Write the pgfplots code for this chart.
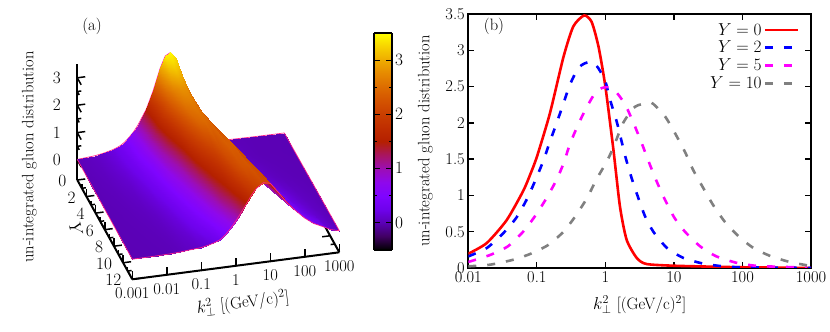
\documentclass[border=0pt]{standalone}
\usepackage{pgfplots}
\pgfplotsset{compat=1.18}
\definecolor{mag}{rgb}{1,0,1}
\definecolor{edgepink}{rgb}{1,0.15,0.55}
\newcommand{\F}{\fontsize{16.5}{18}\selectfont}
\begin{document}
\begin{tikzpicture}[x=1pt,y=1pt]
\pgfplotsset{colormap={pm3d}{rgb=(0,0,0) rgb=(.25,.0002,.383) rgb=(.354,.002,.707) rgb=(.433,.0066,.924) rgb=(.5,.0156,1) rgb=(.559,.0305,.924) rgb=(.612,.0527,.707) rgb=(.661,.0837,.383) rgb=(.707,.125,0) rgb=(.75,.178,0) rgb=(.79,.244,0) rgb=(.829,.325,0) rgb=(.866,.422,0) rgb=(.901,.536,0) rgb=(.935,.67,0) rgb=(.968,.824,0) rgb=(1,1,0)}}
\path[use as bounding box] (0,0) rectangle (830,332);
\begin{axis}[
  at={(180.8pt,185.5pt)}, anchor=origin,
  x={(34.5pt,4.5pt)}, y={(4.583pt,-8.275pt)}, z={(0pt,27.4pt)},
  xmin=-3,xmax=3,ymin=0,ymax=12,zmin=-0.73,zmax=3.5,
  axis x line*=bottom, axis y line*=left, axis z line*=left,
  xtick={-3,-2,-1,0,1,2,3}, xticklabels={0.001,0.01,0.1,1,10,100,1000},
  ytick={0,2,4,6,8,10,12}, minor y tick num=1,
  ztick={0,1,2,3}, minor z tick num=1,
  point meta min=-0.5, point meta max=3.5,
  axis line style={line width=2pt,-}, 
  tick style={line width=1.5pt,black},
  tick align=inside, major tick length=8pt, minor tick length=4pt,
  clip=false,
  tick label style={font=\F},
  xticklabel style={anchor=center,yshift=-14pt},
  yticklabel style={anchor=east,xshift=-7.5pt,yshift=-1pt},
  zticklabel style={anchor=east,xshift=-13pt},
  colormap name=pm3d,
]
\addplot3[draw=edgepink,line width=0.7pt,no marks] coordinates {(-3,0,.02)(-2.5,0,.07)(-2.25,0,.12)(-2,0,.197)(-1.875,0,.25)(-1.75,0,.32)(-1.625,0,.43)(-1.5,0,.58)(-1.375,0,.75)(-1.25,0,.97)(-1,0,1.53)(-.8,0,2.17)(-.6,0,2.95)(-.45,0,3.38)(-.3,0,3.48)(-.15,0,3.25)(0,0,2.5)(.15,0,1.36)(.3,0,.44)(.45,0,.14)(.6,0,.055)(.8,0,.04)(1,0,.03)(1.25,0,.025)(1.5,0,.02)(1.75,0,.015)(2,0,.01)(2.25,0,.007)(2.5,0,.005)(2.75,0,.003)(3,0,.002)};
\addplot3[black,line width=2pt,no marks] coordinates {(3,0,-.73)(3,12,-.73)};
\addplot3[black,line width=1.5pt,no marks] coordinates {(3,10,-.73)(2.77,10,-.73)};
\addplot3[black,line width=1.5pt,no marks] coordinates {(3,11,-.73)(2.88,11,-.73)};
\addplot3[surf,shader=interp,z buffer=reverse x seq,mesh/cols=31,point meta=z] coordinates {
(-3,0,.02)(-2.5,0,.07)(-2.25,0,.12)(-2,0,.197)(-1.875,0,.25)(-1.75,0,.32)(-1.625,0,.43)(-1.5,0,.58)(-1.375,0,.75)(-1.25,0,.97)(-1,0,1.53)(-.8,0,2.17)(-.6,0,2.95)(-.45,0,3.38)(-.3,0,3.48)(-.15,0,3.25)(0,0,2.5)(.15,0,1.36)(.3,0,.44)(.45,0,.14)(.6,0,.055)(.8,0,.04)(1,0,.03)(1.25,0,.025)(1.5,0,.02)(1.75,0,.015)(2,0,.01)(2.25,0,.007)(2.5,0,.005)(2.75,0,.003)(3,0,.002)
(-3,1,.018)(-2.5,1,.062)(-2.25,1,.11)(-2,1,.18)(-1.875,1,.235)(-1.75,1,.30)(-1.625,1,.39)(-1.5,1,.51)(-1.375,1,.66)(-1.25,1,.85)(-1,1,1.4)(-.8,1,1.98)(-.6,1,2.65)(-.45,1,3.05)(-.3,1,3.18)(-.15,1,3.07)(0,1,2.58)(.15,1,1.72)(.3,1,.95)(.45,1,.58)(.6,1,.35)(.8,1,.2)(1,1,.11)(1.25,1,.06)(1.5,1,.035)(1.75,1,.018)(2,1,.01)(2.25,1,.007)(2.5,1,.005)(2.75,1,.003)(3,1,.002)
(-3,2,.015)(-2.5,2,.055)(-2.25,2,.1)(-2,2,.16)(-1.875,2,.21)(-1.75,2,.27)(-1.625,2,.36)(-1.5,2,.47)(-1.375,2,.6)(-1.25,2,.77)(-1,2,1.26)(-.8,2,1.78)(-.6,2,2.30)(-.45,2,2.65)(-.3,2,2.82)(-.15,2,2.81)(0,2,2.57)(.15,2,2.07)(.3,2,1.50)(.45,2,1.05)(.6,2,.67)(.8,2,.37)(1,2,.2)(1.25,2,.095)(1.5,2,.05)(1.75,2,.022)(2,2,.01)(2.25,2,.006)(2.5,2,.004)(2.75,2,.002)(3,2,.001)
(-3,3.5,.011)(-2.5,3.5,.042)(-2.25,3.5,.075)(-2,3.5,.12)(-1.875,3.5,.155)(-1.75,3.5,.2)(-1.625,3.5,.27)(-1.5,3.5,.35)(-1.375,3.5,.45)(-1.25,3.5,.58)(-1,3.5,1.0)(-.8,3.5,1.42)(-.6,3.5,1.9)(-.45,3.5,2.27)(-.3,3.5,2.52)(-.15,3.5,2.62)(0,3.5,2.55)(.15,3.5,2.28)(.3,3.5,1.9)(.45,3.5,1.48)(.6,3.5,1.1)(.8,3.5,.7)(1,3.5,.43)(1.25,3.5,.24)(1.5,3.5,.12)(1.75,3.5,.06)(2,3.5,.03)(2.25,3.5,.016)(2.5,3.5,.009)(2.75,3.5,.005)(3,3.5,.003)
(-3,5,.008)(-2.5,5,.03)(-2.25,5,.052)(-2,5,.083)(-1.875,5,.12)(-1.75,5,.16)(-1.625,5,.2)(-1.5,5,.26)(-1.375,5,.34)(-1.25,5,.46)(-1,5,.76)(-.8,5,1.06)(-.6,5,1.47)(-.45,5,1.86)(-.3,5,2.16)(-.15,5,2.41)(0,5,2.49)(.15,5,2.43)(.3,5,2.24)(.45,5,1.91)(.6,5,1.55)(.8,5,1.08)(1,5,.71)(1.25,5,.42)(1.5,5,.22)(1.75,5,.11)(2,5,.055)(2.25,5,.03)(2.5,5,.016)(2.75,5,.008)(3,5,.004)
(-3,7.5,.005)(-2.5,7.5,.018)(-2.25,7.5,.03)(-2,7.5,.045)(-1.875,7.5,.06)(-1.75,7.5,.08)(-1.625,7.5,.11)(-1.5,7.5,.15)(-1.375,7.5,.2)(-1.25,7.5,.26)(-1,7.5,.45)(-.8,7.5,.66)(-.6,7.5,.92)(-.45,7.5,1.2)(-.3,7.5,1.5)(-.15,7.5,1.75)(0,7.5,1.95)(.15,7.5,2.2)(.3,7.5,2.36)(.45,7.5,2.35)(.6,7.5,2.15)(.8,7.5,1.7)(1,7.5,1.28)(1.25,7.5,.88)(1.5,7.5,.56)(1.75,7.5,.33)(2,7.5,.19)(2.25,7.5,.11)(2.5,7.5,.06)(2.75,7.5,.03)(3,7.5,.012)
(-3,10,.003)(-2.5,10,.01)(-2.25,10,.016)(-2,10,.023)(-1.875,10,.03)(-1.75,10,.04)(-1.625,10,.06)(-1.5,10,.08)(-1.375,10,.105)(-1.25,10,.14)(-1,10,.24)(-.8,10,.34)(-.6,10,.51)(-.45,10,.70)(-.3,10,.92)(-.15,10,1.18)(0,10,1.44)(.15,10,1.74)(.3,10,2.07)(.45,10,2.24)(.6,10,2.28)(.8,10,2.17)(1,10,1.89)(1.25,10,1.42)(1.5,10,.98)(1.75,10,.62)(2,10,.39)(2.25,10,.23)(2.5,10,.13)(2.75,10,.06)(3,10,.023)
(-3,12,.002)(-2.5,12,.006)(-2.25,12,.01)(-2,12,.015)(-1.875,12,.02)(-1.75,12,.025)(-1.625,12,.035)(-1.5,12,.05)(-1.375,12,.065)(-1.25,12,.075)(-1,12,.10)(-.8,12,.15)(-.6,12,.22)(-.45,12,.30)(-.3,12,.45)(-.15,12,.66)(0,12,.9)(.15,12,1.18)(.3,12,1.46)(.45,12,1.76)(.6,12,2.0)(.8,12,2.17)(1,12,2.12)(1.25,12,1.72)(1.5,12,1.3)(1.75,12,.98)(2,12,.68)(2.25,12,.45)(2.5,12,.3)(2.75,12,.14)(3,12,.06)
};
\addplot3[draw=edgepink,line width=0.7pt,no marks] coordinates {(-3,12,.002)(-2.5,12,.006)(-2.25,12,.01)(-2,12,.015)(-1.875,12,.02)(-1.75,12,.025)(-1.625,12,.035)(-1.5,12,.05)(-1.375,12,.065)(-1.25,12,.075)(-1,12,.10)(-.8,12,.15)(-.6,12,.22)(-.45,12,.30)(-.3,12,.45)(-.15,12,.66)(0,12,.9)(.15,12,1.18)(.3,12,1.46)(.45,12,1.76)(.6,12,2.0)(.8,12,2.17)(1,12,2.12)(1.25,12,1.72)(1.5,12,1.3)(1.75,12,.98)(2,12,.68)(2.25,12,.45)(2.5,12,.3)(2.75,12,.14)(3,12,.06)};
\addplot3[draw=edgepink,line width=0.7pt,no marks] coordinates {(3,0,.002)(3,12,.06)};
\addplot3[draw=edgepink,line width=0.7pt,no marks] coordinates {(-3,0,.02)(-3,12,.002)};
\end{axis}
\begin{axis}[
  at={(374pt,82pt)}, anchor=south west, scale only axis,
  width=17.7pt, height=216.7pt,
  xmin=0,xmax=1,ymin=-0.51,ymax=3.5,
  xtick=\empty, ytick={0,1,2,3}, minor y tick num=1,
  yticklabel pos=right, ytick pos=both,
  axis line style={line width=1.8pt}, tick style={line width=1.3pt,black},
  tick align=inside, major tick length=6pt, minor tick length=3pt,
  tick label style={font=\F},
  colormap name=pm3d, point meta min=-0.5, point meta max=3.5,
  view={0}{90}, axis on top,
]
\addplot3[surf,shader=interp,mesh/cols=2,point meta=y] coordinates {(0,-.51,0)(1,-.51,0)(0,3.5,0)(1,3.5,0)};
\end{axis}
\begin{axis}[
  at={(468.3pt,64pt)}, anchor=south west, scale only axis,
  width=342.7pt, height=254pt,
  xmode=log, 
  xmin=0.01,xmax=1000,ymin=0,ymax=3.5,
  xtick={0.01,0.1,1,10,100,1000}, xticklabels={0.01,0.1,1,10,100,1000}, xminorticks=false,
  ytick={0,0.5,1,1.5,2,2.5,3,3.5}, yticklabels={0,0.5,1,1.5,2,2.5,3,3.5},
  axis line style={line width=1.8pt}, tick style={line width=1.3pt,black},
  tick align=inside, major tick length=6pt, ytick pos=both, xtick pos=both,
  tick label style={font=\F}, label style={font=\F},
  xlabel={$k_\perp^2$ [(GeV/c)$^2$]},
  ylabel={un-integrated gluon distribution},
  xlabel style={yshift=-6pt}, ylabel style={yshift=6pt},
  legend style={draw=none,fill=none,at={(0.975,0.98)},anchor=north east,row sep=0.5pt,font=\F},
  legend cell align=right, legend plot pos=right,
  legend image code/.code={\draw[#1] (0pt,0pt) -- (33pt,0pt);},
]
\addplot[red,line width=2.6pt,no marks,smooth,tension=0.4] coordinates {(0.01,.197)(0.0186,.344)(0.0363,.66)(0.0631,1.06)(0.0794,1.28)(0.1,1.53)(0.155,2.13)(0.245,2.91)(0.341,3.33)(0.49,3.48)(0.631,3.39)(0.794,3.05)(1,2.5)(1.31,1.63)(1.63,.85)(2.04,.39)(2.86,.14)(3.98,.055)(11,.03)(100,.01)(1000,.001)};
\addlegendentry{$Y=0$}
\addplot[blue,line width=2.6pt,no marks,smooth,tension=0.4,dash pattern=on 8pt off 11pt] coordinates {(0.01,.16)(0.0186,.275)(0.0324,.48)(0.05,.69)(0.0708,.94)(0.0933,1.19)(0.126,1.49)(0.155,1.74)(0.195,2.0)(0.245,2.27)(0.302,2.52)(0.398,2.75)(0.501,2.82)(0.646,2.84)(0.794,2.75)(1,2.57)(1.17,2.32)(1.48,2.0)(1.95,1.54)(2.45,1.22)(3.09,.94)(3.8,.71)(5.01,.5)(7.94,.275)(13.8,.138)(26.9,.06)(52.5,.023)(100,.01)(1000,.001)};
\addlegendentry{$Y=2$}
\addplot[mag,line width=2.6pt,no marks,smooth,tension=0.4,dash pattern=on 8pt off 11pt] coordinates {(0.01,.083)(0.0209,.18)(0.038,.3)(0.0631,.5)(0.0933,.71)(0.138,.96)(0.195,1.22)(0.245,1.44)(0.302,1.7)(0.398,1.97)(0.537,2.22)(0.708,2.41)(0.891,2.48)(1.17,2.49)(1.48,2.41)(1.95,2.25)(2.57,2.0)(3.39,1.72)(4.27,1.47)(5.62,1.19)(7.41,.94)(10.2,.69)(14.5,.5)(24,.3)(41.7,.16)(83.2,.07)(158,.03)(316,.018)(871,.005)};
\addlegendentry{$Y=5$}
\addplot[gray,line width=2.6pt,no marks,smooth,tension=0.4,dash pattern=on 8pt off 11pt] coordinates {(0.01,.023)(0.0209,.046)(0.0457,.115)(0.0832,.2)(0.148,.32)(0.245,.5)(0.363,.71)(0.537,.96)(0.741,1.22)(1.05,1.47)(1.32,1.67)(1.82,2.0)(2.69,2.22)(4.27,2.28)(5.01,2.26)(7.41,2.09)(10.2,1.87)(14.5,1.6)(19.1,1.35)(26.9,1.1)(37.2,.87)(55,.64)(87.1,.44)(145,.275)(263,.16)(490,.083)(871,.037)(1000,.023)};
\addlegendentry{$Y=10$}
\end{axis}
\node[font=\F] at (92,306) {(a)};
\node[font=\F] at (494,306) {(b)};
\node[font=\F,rotate=90] at (29.3,175) {un-integrated gluon distribution};
\node[font=\F,rotate=7] at (243,29) {$k_\perp^2$ [(GeV/c)$^2$]};
\node[font=\F,rotate=-75] at (76,102) {$Y$};
\end{tikzpicture}
\end{document}
